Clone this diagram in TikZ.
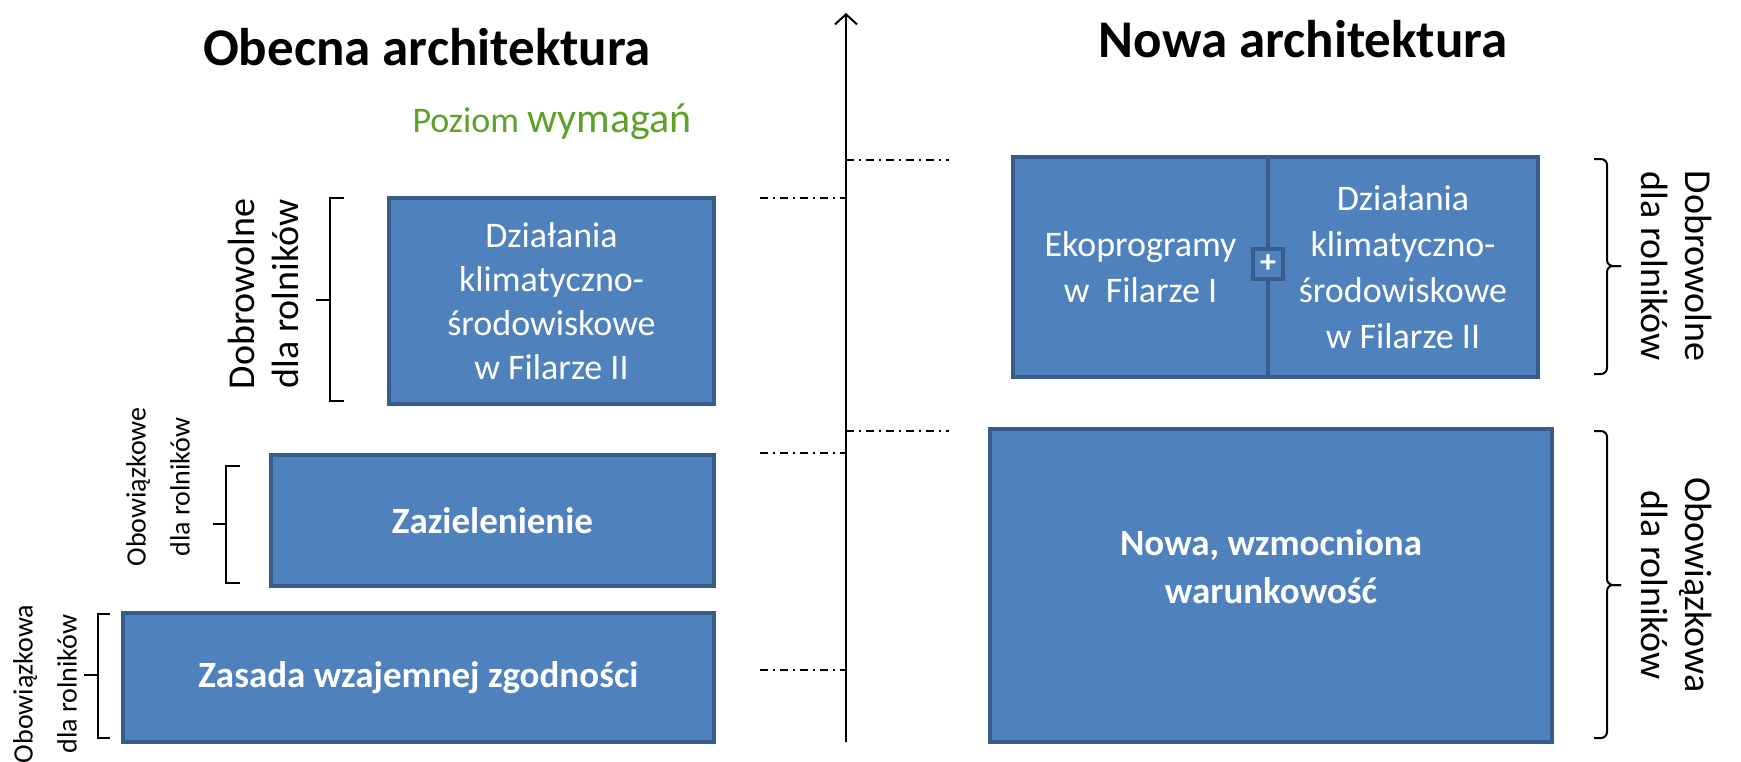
\documentclass[tikz,border=0pt]{standalone}
\usepackage{fontspec}
\setmainfont{Carlito}
\usetikzlibrary{arrows.meta}

\definecolor{boxblue}{HTML}{4F81BD}
\definecolor{boxedge}{HTML}{385D8A}
\definecolor{levelgreen}{HTML}{5DA12A}

\begin{document}
\begin{tikzpicture}[x=0.5pt, y=-0.5pt]
        \tikzset{
            box/.style={draw=boxedge, fill=boxblue, line width=2pt, text=white, align=center, inner sep=2pt},
            plusbox/.style={draw=boxedge, fill=boxblue, line width=2pt, text=white, minimum size=15pt, inner sep=0pt, font=\bfseries\fontsize{16}{16}\selectfont},
            title/.style={font=\bfseries\fontsize{26.5}{30}\selectfont},
            side/.style={align=center, font=\fontsize{19}{22}\selectfont},
            smallside/.style={align=center, font=\fontsize{14}{22}\selectfont},
            bracket/.style={line width=1pt},
            axis/.style={line width=1pt, -{Straight Barb[length=5pt, width=11pt, line width=1pt]}},
            level/.style={line width=0.7pt, dash pattern=on 4pt off 2.5pt on 1pt off 2.5pt}
        }
        \useasboundingbox (0,0) rectangle (1741,761);

        % Titles
        \node[title] (tobecna) at (427,47) {Obecna architektura};
        \node[title] (tnowa) at (1303,39) {Nowa architektura};
        \node[text=levelgreen] (poziom) at (552,122)
            {\fontsize{18}{22}\selectfont Poziom \fontsize{21}{22}\selectfont wymagań};

        % Axis
        \coordinate (axbot) at (846,742);
        \coordinate (axtop) at (846,13);
        \draw[axis] (axbot) -- (axtop);

        % Levels - left
        \coordinate (lv1) at (760,198);
        \coordinate (lv2) at (760,453);
        \coordinate (lv3) at (760,670);
        \draw[level] (lv1) -- (lv1 -| axbot);
        \draw[level] (lv2) -- (lv2 -| axbot);
        \draw[level] (lv3) -- (lv3 -| axbot);

        % Levels - right
        \coordinate (rv1) at (949,160);
        \coordinate (rv2) at (949,431);
        \draw[level] (rv1 -| axbot) -- (rv1);
        \draw[level] (rv2 -| axbot) -- (rv2);

        % Current architecture
        \node[box, minimum width=162.5pt, minimum height=103pt, font=\fontsize{18}{22}\selectfont] (dzialL) at (551.5,301)
            {Działania\\klimatyczno-\\środowiskowe\\w Filarze II};
        \node[box, minimum width=221.5pt, minimum height=65.5pt, font=\bfseries\fontsize{18.5}{22}\selectfont] (ziel) at (492.5,520.5)
            {Zazielenienie};
        \node[box, minimum width=295.5pt, minimum height=64.5pt, font=\bfseries\fontsize{18.5}{22}\selectfont] (zasada) at (418.5,677.5)
            {Zasada wzajemnej zgodności};

        % Brackets - left
        \draw[bracket] (344,198) -- (330,198) -- (330,401) -- (344,401);
        \draw[bracket] (330,300) -- (316,300);
        \draw[bracket] (240,466) -- (226,466) -- (226,583) -- (240,583);
        \draw[bracket] (226,524) -- (213,524);
        \draw[bracket] (110,614) -- (98,614) -- (98,738) -- (110,738);
        \draw[bracket] (98,675) -- (84,675);

        \node[side, rotate=90] (dobrL) at (263,294) {Dobrowolne\\dla rolników};
        \node[smallside, rotate=90] (obowL) at (158,487) {Obowiązkowe\\dla rolników};
        \node[smallside, rotate=90] (obowaL) at (45,684) {Obowiązkowa\\dla rolników};

        % New architecture
        \node[box, minimum width=127.5pt, minimum height=110pt, font=\fontsize{18}{23}\selectfont] (eko) at (1140.5,267)
            {Ekoprogramy\\w\ \ Filarze I};
        \node[box, minimum width=135pt, minimum height=110pt, font=\fontsize{18}{23}\selectfont] (dzialR) at (1403,267)
            {Działania\\klimatyczno-\\środowiskowe\\w Filarze II};
        \node[plusbox] (plus) at (1268,264) {+};
        \node[box, minimum width=281pt, minimum height=156.5pt, text depth=19pt, font=\bfseries\fontsize{18.5}{24}\selectfont] (nowa) at (1271,585.5)
            {Nowa, wzmocniona\\warunkowość};

        % Brackets - right
        \draw[bracket, rounded corners=3pt] (1594,159) -- (1607,159) -- (1607,266) -- (1621,266);
        \draw[bracket, rounded corners=3pt] (1621,266) -- (1607,266) -- (1607,374) -- (1594,374);
        \draw[bracket, rounded corners=3pt] (1594,431) -- (1607,431) -- (1607,585) -- (1621,585);
        \draw[bracket, rounded corners=3pt] (1621,585) -- (1607,585) -- (1607,738) -- (1594,738);

        \node[side, rotate=-90] (dobrR) at (1677,266) {Dobrowolne\\dla rolników};
        \node[side, rotate=-90] (obowR) at (1677,585) {Obowiązkowa\\dla rolników};
\end{tikzpicture}
\end{document}
